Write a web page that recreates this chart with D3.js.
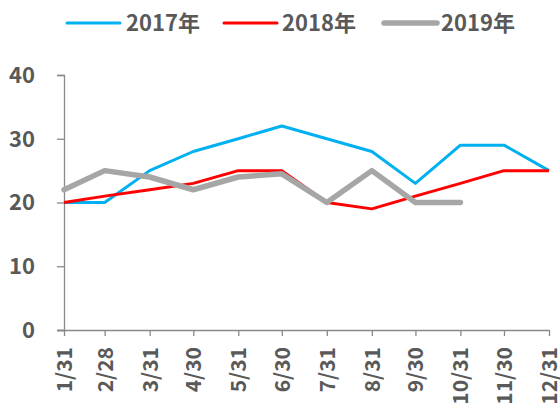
<!DOCTYPE html>
<html><head><meta charset="utf-8">
<script src="https://cdn.jsdelivr.net/npm/d3@7"></script>
<style>body{margin:0;background:#fff}svg{display:block}text{font-family:"Noto Sans CJK SC","Noto Sans",sans-serif;font-weight:bold;fill:#595959}</style>
</head><body><svg id="c" width="560" height="408"></svg>
<script>
const categories = ["1/31","2/28","3/31","4/30","5/31","6/30","7/31","8/31","9/30","10/31","11/30","12/31"];
const s2017 = [20,20,25,28,30,32,30,28,23,29,29,25];
const s2018 = [20,21,22,23,25,25,20,19,21,23,25,25];
const s2019 = [22,25,24,22,24,24.5,20,25,20,20];
const seriesNames = ["2017年","2018年","2019年"];
const yTicks = [0,10,20,30,40];

const svg = d3.select("#c");
const parse = s => { const [m,d] = s.split("/").map(Number); return new Date(2019, m-1, d); };
const dates = categories.map(parse);
const x = d3.scaleTime().domain([dates[0], dates[dates.length-1]]).range([64, 549]);
const y = d3.scaleLinear().domain([0,40]).range([330,75]);

const axisColor = "#898989";
// y axis
const ya = svg.append("g").attr("transform","translate(64,0)")
  .call(d3.axisLeft(y).tickValues(yTicks).tickSize(7).tickPadding(22));
ya.select(".domain").attr("stroke",axisColor).attr("stroke-width",1.3);
ya.selectAll(".tick line").attr("stroke",axisColor).attr("stroke-width",1.3);
ya.selectAll("text").style("font-size","22px").attr("dy","0.34em");

// x axis
const xa = svg.append("g").attr("transform","translate(0,330)")
  .call(d3.axisBottom(x).tickValues(dates).tickFormat((d,i)=>categories[i]).tickSize(6).tickSizeOuter(0));
xa.select(".domain").attr("stroke",axisColor).attr("stroke-width",1.3).attr("d","M57,0.5H549");
xa.selectAll(".tick line").attr("stroke",axisColor).attr("stroke-width",1.3);
xa.selectAll("text").style("font-size","21px")
  .attr("transform","rotate(-90)").attr("text-anchor","end")
  .attr("x",-17).attr("y",0).attr("dy","0.36em");

const colors = ["#00B0F0","#FF0000","#A6A6A6"];
const widths = [3,3,5.5];
const data = [s2017,s2018,s2019];
const line = d3.line().x((d,i)=>x(dates[i])).y(d=>y(d));
data.forEach((s,k)=>{
  svg.append("path").datum(s).attr("d",line).attr("fill","none")
    .attr("stroke",colors[k]).attr("stroke-width",widths[k])
    .attr("stroke-linejoin","round").attr("stroke-linecap", k===2?"round":"butt");
});

// legend
const lx = [67,224,384];
const tx = [126,282,441];
seriesNames.forEach((n,k)=>{
  svg.append("line").attr("x1",lx[k]).attr("x2",lx[k]+53).attr("y1",23).attr("y2",23)
    .attr("stroke",colors[k]).attr("stroke-width",widths[k]).attr("stroke-linecap","round");
  svg.append("text").attr("x",tx[k]).attr("y",23).attr("dy","0.36em")
    .style("font-size","22px").text(n);
});
</script></body></html>
